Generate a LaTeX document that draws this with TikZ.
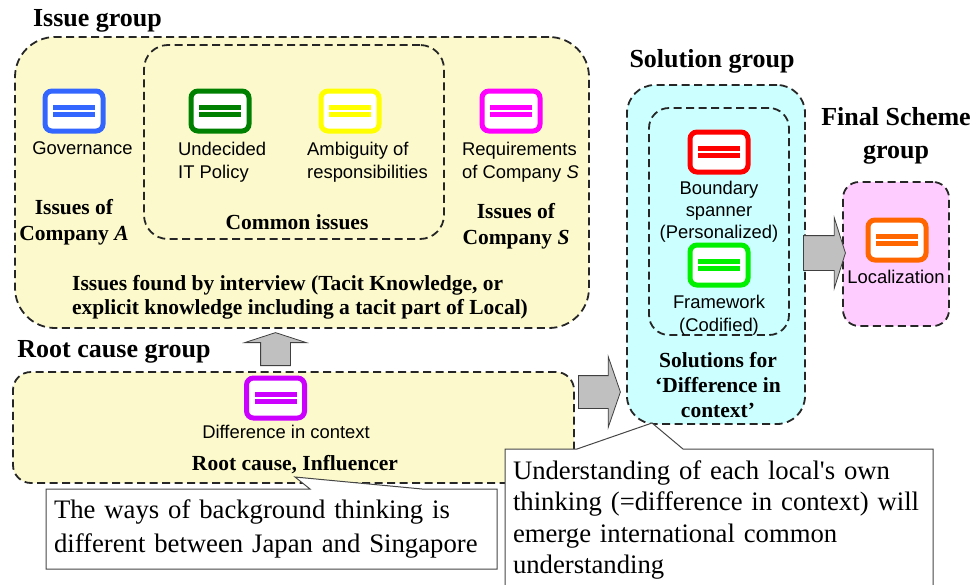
\documentclass[tikz,border=0pt]{standalone}
\usepackage{fontspec}
\setmainfont{Liberation Serif}
\setsansfont{Liberation Sans}
\usetikzlibrary{positioning,shapes.arrows}

\definecolor{issuefill}{RGB}{252,250,204}
\definecolor{solfill}{RGB}{204,255,255}
\definecolor{finalfill}{RGB}{255,204,255}
\definecolor{groupline}{RGB}{38,38,38}
\definecolor{arrowfill}{RGB}{192,192,192}
\definecolor{arrowline}{RGB}{64,64,64}
\definecolor{noteline}{RGB}{70,70,70}
\definecolor{govblue}{RGB}{51,102,255}
\definecolor{policygreen}{RGB}{0,128,0}
\definecolor{ambiyellow}{RGB}{255,255,0}
\definecolor{reqmagenta}{RGB}{255,0,255}
\definecolor{spanred}{RGB}{255,0,0}
\definecolor{framegreen}{RGB}{0,240,0}
\definecolor{localorange}{RGB}{255,102,0}
\definecolor{diffpurple}{RGB}{204,0,255}

\tikzset{
  group/.style={draw=groupline, line width=1.8pt, dash pattern=on 8pt off 4.5pt,
    rounded corners=#1, inner sep=0pt},
  icon/.style={draw=#1, line width=5pt, fill=white, rounded corners=7pt,
    minimum width=58pt, minimum height=40pt, inner sep=0pt,
    path picture={
      \fill[#1, sharp corners] ([xshift=-21pt,yshift=1.2pt]path picture bounding box.center) rectangle ++(42pt,4.5pt);
      \fill[#1, sharp corners] ([xshift=-21pt,yshift=-1.2pt]path picture bounding box.center) rectangle ++(42pt,-4.5pt);
    }},
  title/.style={font=\bfseries\fontsize{26}{33}\selectfont, align=center, inner sep=0pt},
  tag/.style={font=\bfseries\fontsize{21.5}{25}\selectfont, align=center, inner sep=0pt},
  lbl/.style={font=\sffamily\fontsize{18.4}{22.5}\selectfont, align=center, inner sep=0pt},
  note/.style={align=left, inner xsep=8pt, inner ysep=0pt},
  notebox/.style={draw=noteline, line width=1pt, fill=white},
  blockarrow/.style={single arrow, draw=arrowline, fill=arrowfill, line width=0.8pt,
    inner xsep=0pt, text height=0pt, text depth=0pt}
}

\begin{document}
\begin{tikzpicture}[x=1pt,y=-1pt]
\useasboundingbox (0,0) rectangle (976,584);
\clip (0,0) rectangle (976,584);

% groups
\node (issuebox) [group=40pt, fill=issuefill, minimum width=574pt, minimum height=291pt] at (302,182.5) {};
\node (commonbox) [group=24pt, minimum width=300pt, minimum height=194pt] at (294,142) {};
\node (rootbox) [group=18pt, fill=issuefill, minimum width=561pt, minimum height=111pt] at (293.5,427.5) {};
\node (solbox) [group=28pt, fill=solfill, minimum width=178pt, minimum height=339pt] at (716,254.5) {};
\node (solinner) [group=20pt, minimum width=140pt, minimum height=227pt] at (719,221.5) {};
\node (finalbox) [group=16pt, fill=finalfill, minimum width=106pt, minimum height=144pt] at (896,254) {};

\node (issuetitle) [title] at (97.5,21) {Issue group};
\node (soltitle) [title] at (712,61) {Solution group};
\node (finaltitle) [title] at (896,136) {Final Scheme\\group};
\node (roottitle) [title] at (114,352) {Root cause group};

% issue group
\node (govicon) [icon=govblue] at (74,111) {};
\node (govtext) [lbl] at (82.5,148) {Governance};
\node (policyicon) [icon=policygreen] at (220,111) {};
\node (policytext) [lbl, align=left, anchor=west] at (178,162) {Undecided\\IT Policy};
\node (ambiicon) [icon=ambiyellow] at (350,111) {};
\node (ambitext) [lbl, align=left, anchor=west] at (307,162) {Ambiguity of\\responsibilities};
\node (reqicon) [icon=reqmagenta] at (511,111) {};
\node (reqtext) [lbl, align=left, anchor=west] at (462,162) {Requirements\\of Company \textit{S}};

\node (atag) [tag, font=\bfseries\fontsize{21.5}{26}\selectfont] at (74,222) {Issues of\\Company \textit{A}};
\node (commontag) [tag] at (297,222.5) {Common issues};
\node (stag) [tag, font=\bfseries\fontsize{21.5}{26}\selectfont] at (516,226) {Issues of\\Company \textit{S}};
\node (foundtag) [tag, align=left, anchor=west, font=\bfseries\fontsize{21.5}{24}\selectfont] at (72,297)
  {Issues found by interview (Tacit Knowledge, or\\explicit knowledge including a tacit part of Local)};

% solution and final scheme
\node (spanicon) [icon=spanred] at (719,152) {};
\node (spantext) [lbl, font=\sffamily\fontsize{18.4}{22}\selectfont] at (719,212) {Boundary\\spanner\\(Personalized)};
\node (frameicon) [icon=framegreen] at (719,265) {};
\node (frametext) [lbl, font=\sffamily\fontsize{18.4}{23}\selectfont] at (719,315) {Framework\\(Codified)};
\node (soltag) [tag] at (718,385.5) {Solutions for\\‘Difference in\\context’};

\node (localicon) [icon=localorange] at (897,240) {};
\node (localtext) [lbl] at (896,277) {Localization};

% root cause
\node (difficon) [icon=diffpurple] at (275.5,398) {};
\node (difftext) [lbl] at (286,432) {Difference in context};
\node (roottag) [tag] at (295,465) {Root cause, Influencer};

% block arrows
\node (toissue) [blockarrow, inner ysep=14.5pt, minimum height=33pt, minimum width=61pt,
  single arrow head extend=16pt, single arrow tip angle=144, rotate=90, anchor=tail] at (275.5,366) {};
\node (tosol) [blockarrow, inner ysep=16pt, minimum height=42pt, minimum width=70pt,
  single arrow head extend=19pt, single arrow tip angle=142, anchor=tail] at (578,392) {};
\node (tofinal) [blockarrow, inner ysep=17pt, minimum height=42pt, minimum width=70pt,
  single arrow head extend=18pt, single arrow tip angle=145, anchor=tail] at (803,253) {};

% callouts
\coordinate (wayspin) at (295,477);
\draw[notebox] (46,489) -- (310,489) -- (wayspin) -- (422,489) -- (497,489) -- (497,569) -- (46,569) -- cycle;
\node (waysnote) [note, text width=435pt, font=\fontsize{26.7}{34}\selectfont] at (271.5,529)
  {The ways of background thinking is\\different between Japan and Singapore};

\coordinate (thinkpin) at (652,423);
\draw[notebox] (505,449) -- (577,449) -- (thinkpin) -- (683,449) -- (933,449) -- (933,600) -- (505,600) -- cycle;
\node (thinknote) [note, text width=412pt, font=\fontsize{26.7}{31.3}\selectfont] at (719,520)
  {Understanding of each local\textquotesingle s own\\thinking (=difference in context) will\\emerge international common\\understanding};
\end{tikzpicture}
\end{document}
